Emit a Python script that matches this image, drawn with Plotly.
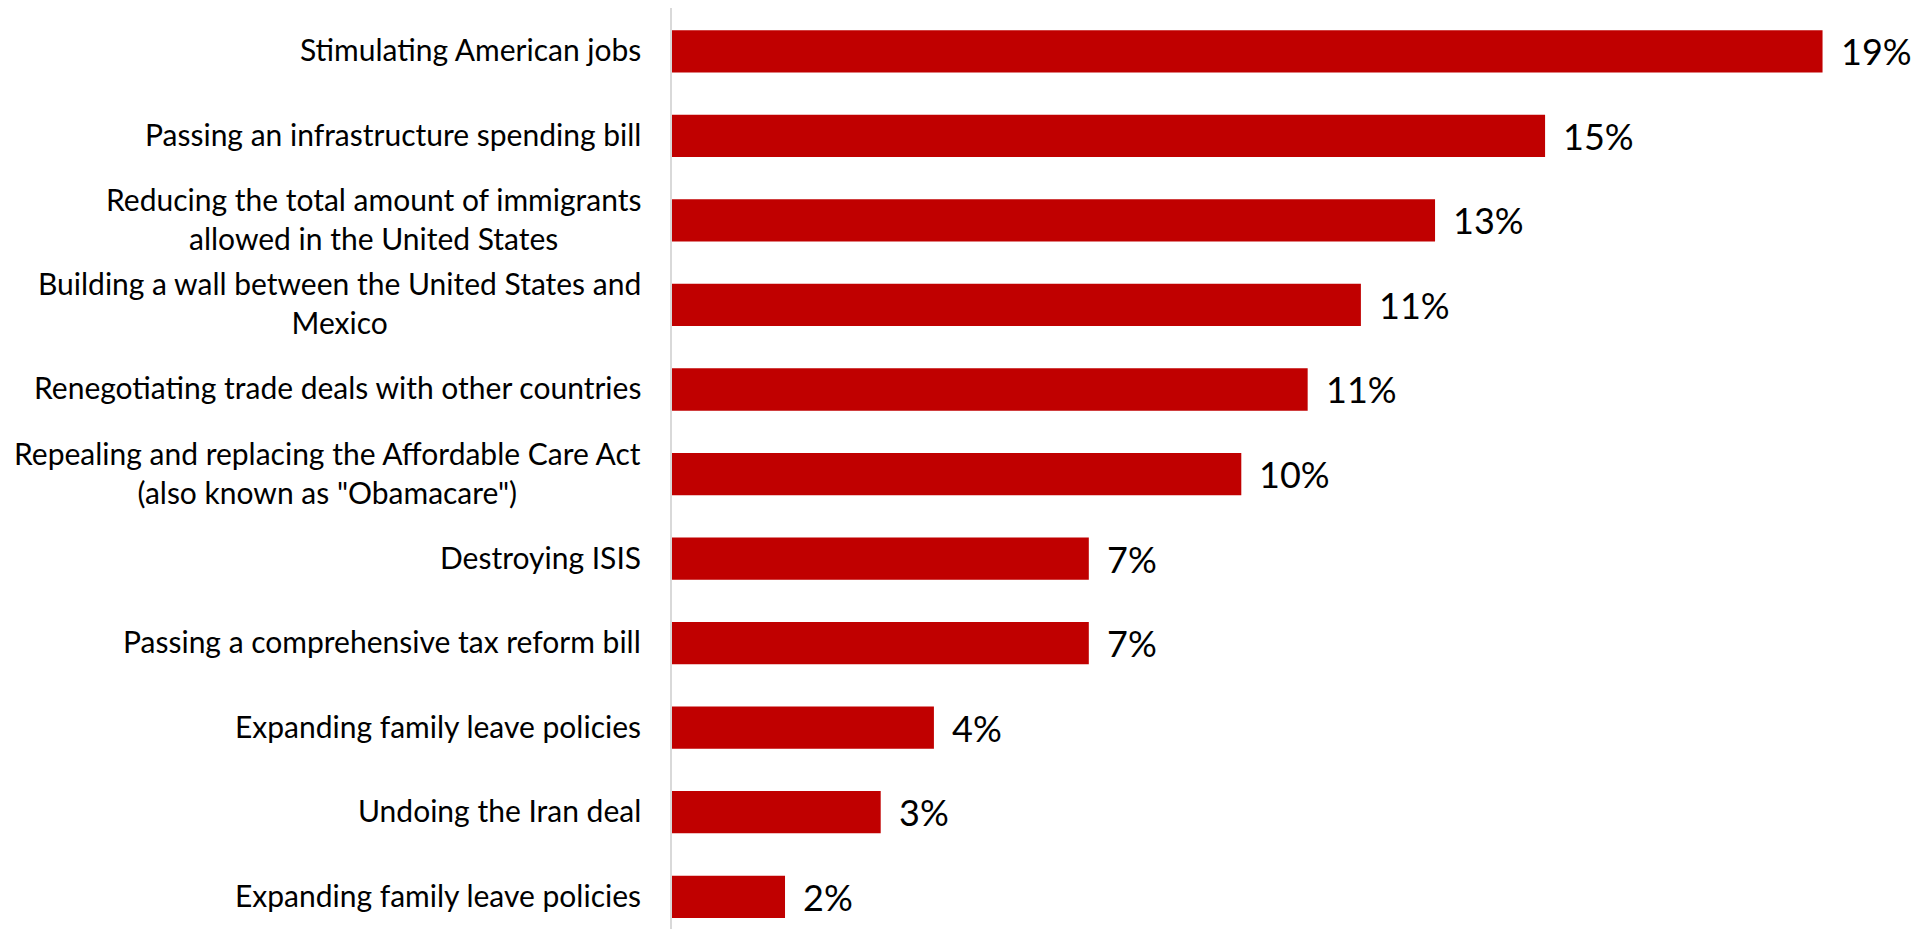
import plotly.graph_objects as go

categories = [
    "Stimulating American jobs",
    "Passing an infrastructure spending bill",
    "Reducing the total amount of immigrants<br>allowed in the United States",
    "Building a wall between the United States and<br>Mexico",
    "Renegotiating trade deals with other countries",
    "Repealing and replacing the Affordable Care Act<br>(also known as \"Obamacare\")",
    "Destroying ISIS",
    "Passing a comprehensive tax reform bill",
    "Expanding family leave policies",
    "Undoing the Iran deal",
    "Expanding family leave policies",
]
values = [19.24, 14.60, 12.76, 11.52, 10.63, 9.52, 6.97, 6.97, 4.38, 3.49, 1.89]
value_labels = ["19%", "15%", "13%", "11%", "11%", "10%", "7%", "7%", "4%", "3%", "2%"]

positions = list(range(len(categories)))

BAR_COLOR = "#C00000"
FONT = "Lato"

fig = go.Figure(
    go.Bar(
        x=values,
        y=positions,
        orientation="h",
        marker=dict(color=BAR_COLOR, line=dict(width=0)),
        hoverinfo="skip",
    )
)

annotations = []
for pos, cat in zip(positions, categories):
    annotations.append(dict(
        x=0, xref="paper", y=pos, yref="y",
        text=cat, showarrow=False,
        xanchor="right", yanchor="middle", align="center",
        xshift=-29, yshift=2,
        font=dict(family=FONT, size=30, color="#000000"),
    ))
for pos, v, lab in zip(positions, values, value_labels):
    annotations.append(dict(
        x=v, xref="x", y=pos, yref="y",
        text=lab, showarrow=False,
        xanchor="left", yanchor="middle",
        xshift=16, yshift=0,
        font=dict(family=FONT, size=36, color="#000000"),
    ))

fig.update_layout(
    width=1919,
    height=929,
    margin=dict(l=672, r=0, t=8, b=0, pad=0),
    paper_bgcolor="white",
    plot_bgcolor="white",
    bargap=0.5,
    showlegend=False,
    annotations=annotations,
    xaxis=dict(range=[0, 1247 / 59.8], visible=False, fixedrange=True),
    yaxis=dict(
        range=[10.381, -0.512],
        showline=True,
        linecolor="#d9d9d9",
        linewidth=1.5,
        showticklabels=False,
        showgrid=False,
        zeroline=False,
        ticks="",
        fixedrange=True,
    ),
)

fig.write_html(
    "out.html",
    config={"displayModeBar": False},
    post_script="document.body.style.margin='0';document.body.style.overflow='hidden';",
)
